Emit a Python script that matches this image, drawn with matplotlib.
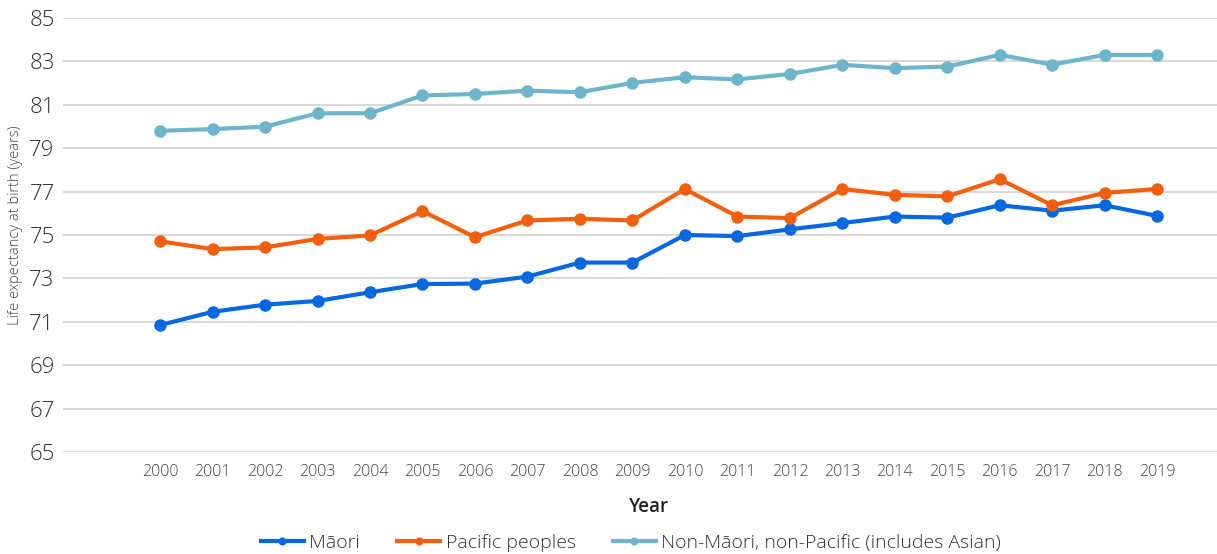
import matplotlib
matplotlib.use("Agg")
import matplotlib.pyplot as plt

plt.rcParams['font.family'] = ['Open Sans', 'DejaVu Sans']
plt.rcParams['font.weight'] = 'light'

years = list(range(2000, 2020))
maori = [70.85, 71.46, 71.79, 71.96, 72.36, 72.74, 72.76, 73.08, 73.73, 73.73,
         75.0, 74.95, 75.26, 75.55, 75.85, 75.8, 76.37, 76.12, 76.37, 75.88]
pacific = [74.71, 74.35, 74.43, 74.82, 74.98, 76.1, 74.9, 75.67, 75.75, 75.67,
           77.12, 75.85, 75.78, 77.12, 76.85, 76.78, 77.57, 76.37, 76.94, 77.12]
non_maori = [79.8, 79.88, 79.99, 80.61, 80.61, 81.43, 81.5, 81.65, 81.58, 82.01,
             82.27, 82.17, 82.42, 82.84, 82.69, 82.76, 83.3, 82.85, 83.3, 83.3]
series_names = ["Māori", "Pacific peoples", "Non-Māori, non-Pacific (includes Asian)"]
colors = ["#0868e0", "#f2600f", "#6cb5cb"]
y_ticks = list(range(65, 86, 2))

fig = plt.figure(figsize=(12.17, 5.54), dpi=100)
ax = fig.add_axes([63 / 1217, 1 - 452 / 554, 1 - 63 / 1217, (452 - 18) / 554])

for vals, name, c in zip([maori, pacific, non_maori], series_names, colors):
    ax.plot(years, vals, color=c, lw=3, marker="o", markersize=8,
            solid_joinstyle="round", label=name, zorder=3)

ax.set_xlim(1998.15, 2020.14)
ax.set_ylim(65, 85)
ax.set_yticks(y_ticks)
ax.set_xticks(years)
ax.set_xticklabels([str(y) for y in years], fontsize=11.5, color="#444444")
ax.set_yticklabels([str(t) for t in y_ticks], fontsize=16, color="#333333")
ax.tick_params(axis="both", length=0)
ax.tick_params(axis="x", pad=9)
ax.tick_params(axis="y", pad=6)
ax.grid(axis="y", color="#d9d9d9", lw=1.5, zorder=0)
for s in ax.spines.values():
    s.set_visible(False)

fig.text(16 / 1217, 1 - 225 / 554, "Life expectancy at birth (years)",
         rotation=90, ha="center", va="center", fontsize=10.5, color="#444444")
fig.text(649 / 1217, 1 - 507 / 554, "Year", ha="center", va="center",
         fontsize=13.5, fontweight="semibold", color="#222222")

handles, labels = ax.get_legend_handles_labels()
fig.legend(handles, labels, loc="center", bbox_to_anchor=(631 / 1217, 1 - 543 / 554),
           ncol=3, frameon=False, fontsize=14, handlelength=2.2, markerscale=0.6,
           columnspacing=1.9, handletextpad=0.3, labelcolor="#333333")

fig.savefig("out.png", dpi=100)
